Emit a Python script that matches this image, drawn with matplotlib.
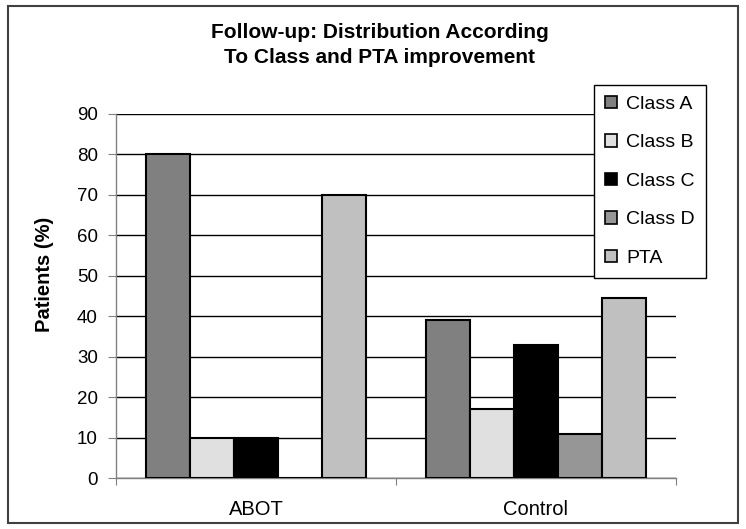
import matplotlib.pyplot as plt
import numpy as np
from matplotlib.patches import Rectangle

plt.rcParams['font.family'] = ['Liberation Sans', 'DejaVu Sans']

groups = ["ABOT", "Control"]
series = ["Class A", "Class B", "Class C", "Class D", "PTA"]
class_a = [80, 39]
class_b = [10, 17]
class_c = [10, 33]
class_d = [0, 11]
pta = [70, 44.4]
colors = ["#808080", "#e0e0e0", "#000000", "#969696", "#c0c0c0"]

values = [class_a, class_b, class_c, class_d, pta]

fig = plt.figure(figsize=(7.46, 5.29), dpi=100)
ax = fig.add_axes([0.1555, 0.0964, 0.7505, 0.6881])

x = np.arange(len(groups))
w = 0.157
for i, (name, vals, c) in enumerate(zip(series, values, colors)):
    ax.bar(x + (i - 2) * w, vals, w, color=c, edgecolor="black",
           linewidth=1.5, label=name, zorder=3)

ax.set_xlim(-0.5, 1.5)
ax.set_ylim(0, 90)
ax.set_yticks(range(0, 91, 10))
ax.yaxis.grid(True, color="black", linewidth=1, zorder=0)
ax.tick_params(axis="y", labelsize=13.5, direction="out", length=6,
               color="#808080", pad=7)

# category boundaries get the ticks, centres get the labels
ax.set_xticks([-0.5, 0.5, 1.5])
ax.set_xticklabels([])
ax.set_xticks(x, minor=True)
ax.set_xticklabels(groups, minor=True)
ax.tick_params(axis="x", which="major", direction="out", length=5,
               color="#808080")
ax.tick_params(axis="x", which="minor", length=0, labelsize=14.5, pad=16)

for s in ["top", "right"]:
    ax.spines[s].set_visible(False)
for s in ["left", "bottom"]:
    ax.spines[s].set_color("#808080")
    ax.spines[s].set_linewidth(1)

ax.set_ylabel("Patients (%)", fontsize=14.5, fontweight="bold", va="center")
ax.yaxis.set_label_coords(-0.1286, 0.56)

fig.text(0.509, 0.915, "Follow-up: Distribution According\nTo Class and PTA improvement",
         ha="center", va="center", fontsize=15, fontweight="bold",
         linespacing=1.4)

handles = [Rectangle((0, 0), 1, 1, facecolor=c, edgecolor="black", linewidth=1.2)
           for c in colors]
leg = fig.legend(handles, series, loc="upper left",
                 bbox_to_anchor=(0.7962, 0.8393), fontsize=14,
                 handlelength=0.62, handleheight=0.62, handletextpad=0.5,
                 labelspacing=1.1, borderpad=0.55, borderaxespad=0,
                 fancybox=False, framealpha=1, edgecolor="black")
leg.get_frame().set_linewidth(1)

fig.patches.append(Rectangle((0.011, 0.011), 0.978, 0.978, transform=fig.transFigure,
                             fill=False, edgecolor="#404040", linewidth=1.5))

fig.savefig("out.png", dpi=100)
